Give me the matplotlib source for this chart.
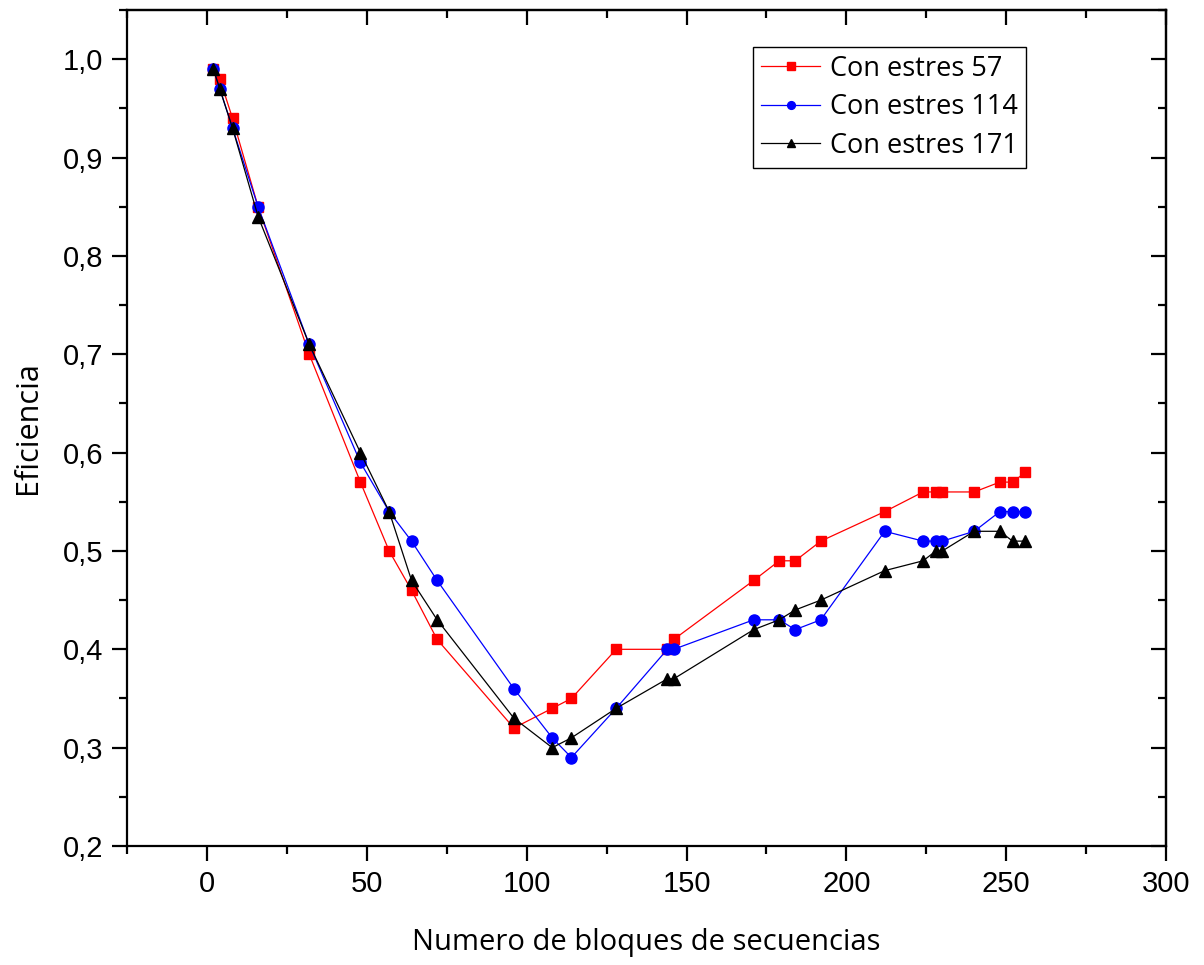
import numpy as np
import matplotlib
matplotlib.use('Agg')
import matplotlib.pyplot as plt
from matplotlib.ticker import MultipleLocator, FuncFormatter

# numero de bloques
bloques = [2, 4, 8, 16, 32, 48, 57, 64, 72, 96, 108, 114, 128, 144, 146,
           171, 179, 184, 192, 212, 224, 228, 230, 240, 248, 252, 256]

ef_57 = [0.99, 0.98, 0.94, 0.85, 0.70, 0.57, 0.50, 0.46, 0.41, 0.32, 0.34, 0.35, 0.40, 0.40, 0.41,
         0.47, 0.49, 0.49, 0.51, 0.54, 0.56, 0.56, 0.56, 0.56, 0.57, 0.57, 0.58]
ef_114 = [0.99, 0.97, 0.93, 0.85, 0.71, 0.59, 0.54, 0.51, 0.47, 0.36, 0.31, 0.29, 0.34, 0.40, 0.40,
          0.43, 0.43, 0.42, 0.43, 0.52, 0.51, 0.51, 0.51, 0.52, 0.54, 0.54, 0.54]
ef_171 = [0.99, 0.97, 0.93, 0.84, 0.71, 0.60, 0.54, 0.47, 0.43, 0.33, 0.30, 0.31, 0.34, 0.37, 0.37,
          0.42, 0.43, 0.44, 0.45, 0.48, 0.49, 0.50, 0.50, 0.52, 0.52, 0.51, 0.51]

etiquetas = ['Con estres 57', 'Con estres 114', 'Con estres 171']

fig = plt.figure(figsize=(12.04, 9.65), dpi=100)
ax = fig.add_axes([0.1055, 0.1233, 0.863, 0.8663])

ax.plot(bloques, ef_57, color='#ff0000', lw=0.9, marker='s', ms=7.5, label=etiquetas[0])
ax.plot(bloques, ef_114, color='#0000ff', lw=0.9, marker='o', ms=8, label=etiquetas[1])
ax.plot(bloques, ef_171, color='black', lw=0.9, marker='^', ms=9, label=etiquetas[2])

ax.set_xlim(-25, 300)
ax.set_ylim(0.2, 1.05)

ax.xaxis.set_major_locator(MultipleLocator(50))
ax.xaxis.set_minor_locator(MultipleLocator(25))
ax.yaxis.set_major_locator(MultipleLocator(0.1))
ax.yaxis.set_minor_locator(MultipleLocator(0.05))
ax.yaxis.set_major_formatter(FuncFormatter(lambda v, p: ('%.1f' % v).replace('.', ',')))

for s in ax.spines.values():
    s.set_linewidth(1.6)

ax.tick_params(which='major', direction='out', length=11, width=1.6,
               labelsize=21, pad=6)
ax.tick_params(which='minor', direction='out', length=6, width=1.6)
for lab in ax.get_xticklabels() + ax.get_yticklabels():
    lab.set_family('Liberation Sans')

# ejes de arriba y derecha con ticks hacia adentro
top = ax.secondary_xaxis('top')
top.xaxis.set_major_locator(MultipleLocator(50))
top.xaxis.set_minor_locator(MultipleLocator(25))
top.tick_params(which='major', direction='in', length=11, width=1.6, labeltop=False)
top.tick_params(which='minor', direction='in', length=6, width=1.6)
right = ax.secondary_yaxis('right')
right.yaxis.set_major_locator(MultipleLocator(0.1))
right.yaxis.set_minor_locator(MultipleLocator(0.05))
right.tick_params(which='major', direction='in', length=11, width=1.6, labelright=False)
right.tick_params(which='minor', direction='in', length=6, width=1.6)
top.spines['top'].set_linewidth(1.6)
right.spines['right'].set_linewidth(1.6)

ax.set_xlabel('Numero de bloques de secuencias', fontsize=21, family='Open Sans', labelpad=22)
ax.set_ylabel('Eficiencia', fontsize=22, family='Open Sans', labelpad=14)

leg = ax.legend(loc='upper right', bbox_to_anchor=(0.865, 0.956), borderaxespad=0,
                prop={'family': 'Open Sans', 'size': 19.5},
                fancybox=False, edgecolor='black', framealpha=1, markerscale=0.7,
                handlelength=2.2, labelspacing=0.38, borderpad=0.3, handletextpad=0.35)
leg.get_frame().set_linewidth(1.0)

plt.savefig('out.png', dpi=100)
